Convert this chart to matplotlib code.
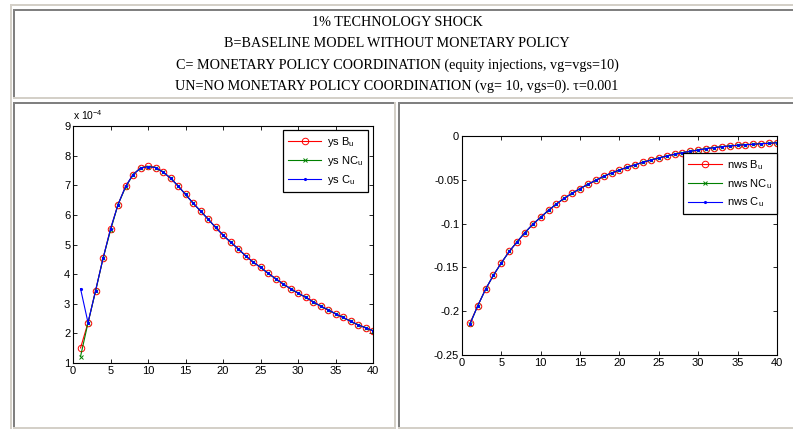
import numpy as np
import matplotlib.pyplot as plt
from matplotlib.patches import Rectangle

# ---- data (x = periods 1..40)
periods = list(range(1, 41))

ys_b = [1.51, 2.36, 3.44, 4.53, 5.53, 6.35, 6.96, 7.36, 7.59, 7.64,
        7.60, 7.45, 7.24, 6.98, 6.69, 6.40, 6.13, 5.86, 5.58, 5.32,
        5.08, 4.86, 4.62, 4.41, 4.23, 4.03, 3.85, 3.67, 3.51, 3.36,
        3.22, 3.07, 2.92, 2.80, 2.66, 2.54, 2.41, 2.29, 2.19, 2.09]
ys_nc = [1.22, 2.36, 3.42, 4.53, 5.48, 6.35, 6.93, 7.36, 7.58, 7.63,
         7.60, 7.45, 7.24, 6.98, 6.69, 6.40, 6.13, 5.86, 5.58, 5.32,
         5.08, 4.86, 4.62, 4.41, 4.23, 4.03, 3.85, 3.67, 3.51, 3.36,
         3.22, 3.07, 2.92, 2.80, 2.66, 2.54, 2.41, 2.29, 2.19, 2.09]
ys_c = [3.51, 2.36, 3.44, 4.53, 5.53, 6.35, 6.96, 7.36, 7.58, 7.63,
        7.60, 7.45, 7.24, 6.98, 6.69, 6.40, 6.13, 5.86, 5.58, 5.32,
        5.08, 4.86, 4.62, 4.41, 4.23, 4.03, 3.85, 3.67, 3.51, 3.36,
        3.22, 3.07, 2.92, 2.80, 2.66, 2.54, 2.41, 2.29, 2.19, 2.09]

nws_b = [-0.2139, -0.1938, -0.1748, -0.1588, -0.1448, -0.1318, -0.1208, -0.1102,
         -0.1007, -0.0927, -0.0847, -0.0775, -0.0710, -0.0653, -0.0600, -0.0551,
         -0.0505, -0.0460, -0.0422, -0.0388, -0.0357, -0.0327, -0.0300, -0.0274,
         -0.0251, -0.0228, -0.0209, -0.0190, -0.0175, -0.0160, -0.0144, -0.0133,
         -0.0122, -0.0114, -0.0106, -0.0099, -0.0095, -0.0087, -0.0084, -0.0076]
nws_nc = [-0.2150] + nws_b[1:]
nws_c = [-0.2150] + nws_b[1:]

header = ["1% TECHNOLOGY SHOCK",
          "B=BASELINE MODEL WITHOUT MONETARY POLICY",
          "C= MONETARY POLICY COORDINATION (equity injections, vg=vgs=10)",
          "UN=NO MONETARY POLICY COORDINATION (vg= 10, vgs=0). \u03c4=0.001"]

plt.rcParams['font.family'] = ['Liberation Sans', 'DejaVu Sans']
plt.rcParams['mathtext.fontset'] = 'custom'
plt.rcParams['mathtext.rm'] = 'Liberation Sans'

fig = plt.figure(figsize=(7.93, 4.29), dpi=100)

# table borders drawn in pixel space
bg = fig.add_axes([0, 0, 1, 1], zorder=-1)
bg.set_xlim(0, 793)
bg.set_ylim(429, 0)
bg.axis('off')
light = '#d4d0c8'
dark = '#808080'
borders = [(10, 4, 2, 425, light), (10, 4, 790, 2, light),
           (13, 9, 780, 2, dark), (13, 9, 2, 88, dark), (13, 97, 780, 2, light),
           (13, 102, 381, 2, dark), (13, 102, 2, 327, dark),
           (394, 102, 2, 327, light), (13, 427, 383, 2, light),
           (398, 102, 395, 2, dark), (398, 102, 2, 327, dark),
           (398, 427, 395, 2, light)]
for x, y, w, h, c in borders:
    bg.add_patch(Rectangle((x, y), w, h, color=c, lw=0))

for i, line in enumerate(header):
    bg.text(397, 22.5 + i * 21.3, line, ha='center', va='center',
            family=['Liberation Serif', 'DejaVu Serif'], fontsize=10.2)


def style(ax):
    ax.set_xlim(0, 40)
    ax.set_xticks(range(0, 41, 5))
    ax.tick_params(direction='in', top=True, right=True, labelsize=8,
                   length=3, width=0.6, pad=2)
    for s in ax.spines.values():
        s.set_linewidth(0.8)


def legend(ax, anchor):
    leg = ax.legend(loc='upper right', bbox_to_anchor=anchor,
                    borderaxespad=0, fontsize=8, handlelength=3.0,
                    fancybox=False, framealpha=1, edgecolor='black',
                    labelspacing=0.45, borderpad=0.45, handletextpad=0.5)
    leg.get_frame().set_linewidth(0.9)


# ---- left panel
ax1 = fig.add_axes([0.0921, 0.1538, 0.3783, 0.5524])
ax1.plot(periods, ys_b, color='red', marker='o', ms=4.7, mfc='none', mew=0.7,
         lw=0.8, label='ys B$_\\mathregular{u}$')
ax1.plot(periods, ys_nc, color='green', marker='x', ms=3.5, mew=0.7,
         lw=0.8, label='ys NC$_\\mathregular{u}$')
ax1.plot(periods, ys_c, color='blue', marker='.', ms=2.5,
         lw=0.8, label='ys C$_\\mathregular{u}$')
style(ax1)
ax1.set_ylim(1, 9)
ax1.set_yticks(range(1, 10))
ax1.text(0.0, 1.015, 'x 10$^{\\mathregular{-4}}$', transform=ax1.transAxes,
         fontsize=7.5, ha='left', va='bottom')
legend(ax1, (0.983, 0.983))

# ---- right panel
ax2 = fig.add_axes([0.5826, 0.1725, 0.3972, 0.5105])
ax2.plot(periods, nws_b, color='red', marker='o', ms=4.7, mfc='none', mew=0.7,
         lw=0.8, label='nws B$_\\mathregular{u}$')
ax2.plot(periods, nws_nc, color='green', marker='x', ms=3.5, mew=0.7,
         lw=0.8, label='nws NC$_\\mathregular{u}$')
ax2.plot(periods, nws_c, color='blue', marker='.', ms=2.5,
         lw=0.8, label='nws C$_\\mathregular{u}$')
style(ax2)
ax2.set_ylim(-0.25, 0)
ax2.set_yticks([-0.25, -0.2, -0.15, -0.1, -0.05, 0])
ax2.set_yticklabels(['-0.25', '-0.2', '-0.15', '-0.1', '-0.05', '0'])
legend(ax2, (1.0, 0.922))

fig.savefig('out.png', dpi=100)
